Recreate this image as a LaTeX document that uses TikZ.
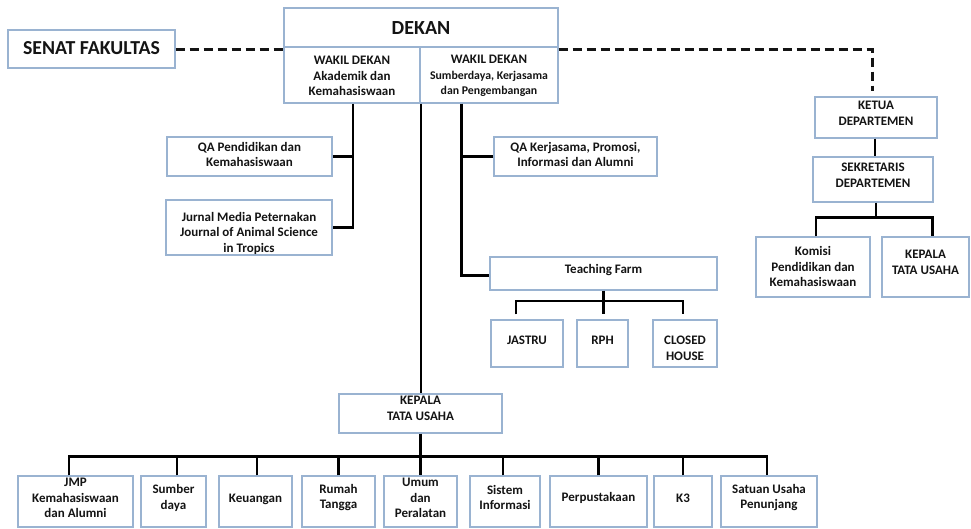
\documentclass[tikz,border=0pt]{standalone}
\usepackage{fontspec}
\setmainfont{Carlito}
\definecolor{boxblue}{HTML}{9AB3D1}
\definecolor{ink}{HTML}{141414}
\tikzset{
  box/.style={draw=boxblue, line width=1.4pt, fill=white, inner sep=0pt},
  txt/.style={align=center, inner sep=0pt, text=ink, font=\bfseries\fontsize{13}{15.5}\selectfont},
  conn/.style={draw=black, line width=2.4pt},
  dsh/.style={draw=ink, line width=3pt, dash pattern=on 9pt off 5pt},
}
% name, x1, y1, x2, y2, text y, text
\newcommand\obox[7]{%
  \node[box, minimum width={#4-#2}, minimum height={#5-#3}] (#1) at ({(#2+#4)/2},{(#3+#5)/2}) {};
  \node[txt] (#1-t) at ({(#2+#4)/2},#6) {#7};
}
\begin{document}
\begin{tikzpicture}[x=1pt,y=-1pt]
\useasboundingbox (0,0) rectangle (971,528);

% top
\obox{senat}{8}{30}{175}{68}{48.5}{\fontsize{19.8}{23}\selectfont SENAT FAKULTAS}
\obox{dekan}{284}{8}{558}{47}{28}{\fontsize{20}{23}\selectfont DEKAN}
\obox{wd1}{284}{47}{420}{103}{76}{WAKIL DEKAN\\Akademik dan\\Kemahasiswaan}
\obox{wd2}{420}{47}{558}{103}{76}{WAKIL DEKAN\\{\fontsize{11.8}{15.5}\selectfont Sumberdaya, Kerjasama}\\{\fontsize{11.8}{15.5}\selectfont dan Pengembangan}}

% left branch
\obox{qa1}{167}{137}{332}{176}{154.5}{\fontsize{13}{18}\selectfont QA Pendidikan dan\\Kemahasiswaan}
\obox{jurnal}{166}{200}{332}{255}{233}{Jurnal Media Peternakan\\Journal of Animal Science\\in Tropics}

% right branch
\obox{qa2}{494}{137}{657}{176}{154.5}{QA Kerjasama, Promosi,\\Informasi dan Alumni}
\obox{tf}{490}{257}{717}{290}{270}{Teaching Farm}
\obox{jastru}{491}{320}{563}{367}{340}{JASTRU}
\obox{rph}{577}{320}{628}{367}{340}{RPH}
\obox{closed}{653}{320}{717}{367}{348.5}{CLOSED\\HOUSE}

% department
\obox{ketua}{815}{97}{937}{138}{113.5}{KETUA\\DEPARTEMEN}
\obox{sekr}{813}{157}{933}{202}{175}{SEKRETARIS\\DEPARTEMEN}
\obox{komisi}{756}{237}{870}{297}{266.5}{Komisi\\Pendidikan dan\\Kemahasiswaan}
\obox{ktu2}{882}{237}{969}{297}{262.5}{KEPALA\\TATA USAHA}

% kepala tata usaha
\obox{ktu}{339}{394}{502}{433}{408.5}{KEPALA\\TATA USAHA}
\obox{jmp}{18}{476}{133}{527}{498}{JMP\\Kemahasiswaan\\dan Alumni}
\obox{sumber}{141}{476}{206}{527}{498}{Sumber\\daya}
\obox{keu}{219}{476}{292}{527}{499}{Keuangan}
\obox{rumah}{302}{476}{375}{527}{497.5}{Rumah\\Tangga}
\obox{umum}{384}{476}{457}{527}{498}{Umum\\dan\\Peralatan}
\obox{sistem}{470}{476}{540}{527}{497.5}{Sistem\\Informasi}
\obox{perpus}{550}{476}{647}{527}{498}{Perpustakaan}
\obox{kthree}{654}{476}{712}{527}{498}{K3}
\obox{satuan}{721}{476}{817}{527}{497.5}{Satuan Usaha\\Penunjang}

% dashed relations
\draw[dsh] (senat.east) -- (senat.east -| dekan.west);
\draw[dsh] (dekan.east |- senat.east) -| ([xshift=-4pt,yshift=5pt]ketua.north);

% wakil dekan 1
\coordinate (l1) at ([xshift=1pt]wd1.south);
\draw[conn] (l1) |- (jurnal.east);
\draw[conn] (qa1.east) -- (qa1.east -| l1);

% centre line
\draw[conn] (wd1.south east) -- (wd1.south east |- ktu.north);

% wakil dekan 2
\coordinate (r1) at ([xshift=42pt]wd2.south west);
\draw[conn] (r1) |- ([yshift=-2pt]tf.west);
\draw[conn] (qa2.west) -- (qa2.west -| r1);

% teaching farm
\coordinate (tfbus) at ([yshift=-10pt]tf.south);
\draw[conn] (tf.south) -- ([yshift=5pt]tf.south |- rph.north);
\draw[conn] ([xshift=-11pt,yshift=5pt]jastru.north) |- (tfbus) -| ([xshift=-2pt,yshift=5pt]closed.north);

% department
\draw[conn] ([xshift=-1pt]ketua.south) -- ([xshift=-1pt]ketua.south |- sekr.north);
\draw[conn] ([xshift=3pt]sekr.south) -- ++(0,16);
\draw[conn] ([xshift=3pt]komisi.north) -- ++(0,-19) -| ([xshift=7pt]ktu2.north);

% kepala tata usaha
\draw[conn] (ktu.south) -- (ktu.south |- umum.north);
\draw[conn] ([xshift=-6.5pt]jmp.north) -- ++(0,-19) -| ([xshift=-2pt]satuan.north);
\draw[conn] ([xshift=3.5pt]sumber.north) -- ++(0,-19);
\draw[conn] ([xshift=1.5pt]keu.north) -- ++(0,-19);
\draw[conn] (rumah.north) -- ++(0,-19);
\draw[conn] ([xshift=-2pt]sistem.north) -- ++(0,-19);
\draw[conn] (perpus.north) -- ++(0,-19);
\draw[conn] (kthree.north) -- ++(0,-19);
\end{tikzpicture}
\end{document}
